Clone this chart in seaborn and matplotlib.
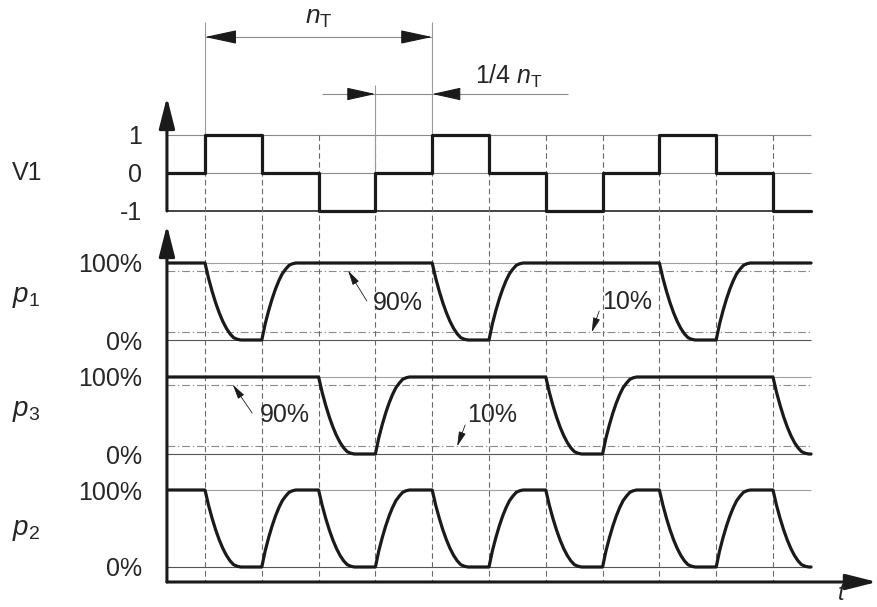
import matplotlib
matplotlib.use("Agg")
import matplotlib.pyplot as plt
import seaborn as sns
import pandas as pd

# V1 step signal, one level per quarter period
v1_times = [0.33, 1, 2, 3, 4, 5, 6, 7, 8, 9, 10, 11, 11.67]
v1_values = [0, 1, 0, -1, 0, 1, 0, -1, 0, 1, 0, -1, -1]
v1_ticks = ["1", "0", "-1"]

# normalised edge shapes (11 samples each)
fall_shape = [1.00, 0.80, 0.63, 0.48, 0.35, 0.24, 0.15, 0.08, 0.03, 0.01, 0.00]
rise_shape = [0.00, 0.21, 0.38, 0.53, 0.66, 0.77, 0.86, 0.92, 0.97, 0.99, 1.00]
fall_time = 0.63
rise_time = 0.60

# switching instants (in quarter periods), all outputs start at 100 %
p1_edges = [1, 2, 5, 6, 9, 10]
p3_edges = [3, 4, 7, 8, 11]
p2_edges = [1, 2, 3, 4, 5, 6, 7, 8, 9, 10, 11]
p_ticks = ["100%", "0%"]
thresholds = [90, 10]

# layout (vertical rows, in figure pixels from top)
T0, T1 = v1_times[0], v1_times[-1]
V1_ROW, V1_SCALE = 173, 38
P_HEIGHT = 77
rows = {"p1": 340, "p3": 454, "p2": 567}
AXIS_Y = 582
FS = 18
INK = "#1a1a1a"
GRID = "#8a8a8a"


def build_trace(edges, start=100):
    level = start
    t, v = [T0], [level]
    for e in edges:
        t.append(e)
        v.append(level)
        shape, dur = (fall_shape, fall_time) if level == 100 else (rise_shape, rise_time)
        n = len(shape) - 1
        for k, f in enumerate(shape):
            t.append(e + dur * k / n)
            v.append(100 * f)
        level = 100 - level
    t.append(T1)
    v.append(level)
    return pd.DataFrame({"t": t, "p": v})


sns.set_style("white")
plt.rcParams["font.family"] = ["Liberation Sans", "DejaVu Sans"]
plt.rcParams["mathtext.fontset"] = "custom"
plt.rcParams["mathtext.rm"] = "Liberation Sans"
plt.rcParams["mathtext.it"] = "Liberation Sans:italic"

fig = plt.figure(figsize=(8.78, 6.07), dpi=100)
ax = fig.add_axes([167 / 878, 0, 711 / 878, 1])
ax.patch.set_visible(False)

# grid: V1 levels
ax.hlines([V1_ROW - V1_SCALE, V1_ROW], T0, T1, color=GRID, lw=0.8)
ax.hlines(V1_ROW + V1_SCALE, T0, T1, color="#444444", lw=1.4)
# grid: p levels and thresholds
for name, r in rows.items():
    ax.hlines(r - P_HEIGHT, T0, T1, color="#a0a0a0", lw=0.8)
    ax.hlines(r, T0, T1, color="#555555", lw=0.8)
    if name != "p2":
        for th in thresholds:
            ax.hlines(r - P_HEIGHT * th / 100, T0, T1, color=GRID, lw=0.8,
                      linestyles=[(0, (7, 2.5, 1.2, 2.5))])
# vertical dashed markers at each quarter period
ax.vlines(v1_times[1:-1], V1_ROW - V1_SCALE, AXIS_Y, color="#6a6a6a", lw=0.8,
          linestyles=[(0, (5, 3))])
# extension lines for the dimensions
ax.vlines([1, 5], 22, V1_ROW - V1_SCALE, color="#9a9a9a", lw=0.8)
ax.vlines(4, 85, V1_ROW, color="#9a9a9a", lw=0.8)

# signals
v1_df = pd.DataFrame({"t": v1_times, "V1": [V1_ROW - V1_SCALE * v for v in v1_values]})
sns.lineplot(data=v1_df, x="t", y="V1", ax=ax, estimator=None, sort=False,
             drawstyle="steps-post", color=INK, lw=2.3)
for name, edges in [("p1", p1_edges), ("p3", p3_edges), ("p2", p2_edges)]:
    df = build_trace(edges)
    df["y"] = rows[name] - P_HEIGHT * df["p"] / 100
    sns.lineplot(data=df, x="t", y="y", ax=ax, estimator=None, sort=False,
                 color=INK, lw=2.3)


def arrow(tip, base, lw, hl, hw, color=INK):
    ax.annotate("", xy=tip, xytext=base, annotation_clip=False,
                arrowprops=dict(arrowstyle=f"-|>,head_length={hl},head_width={hw}",
                                mutation_scale=1, lw=lw, color=color,
                                shrinkA=0, shrinkB=0))


# axes with arrow heads
arrow((T0, 97), (T0, V1_ROW + V1_SCALE), 2.2, 19, 4.8)
arrow((T0, 225), (T0, AXIS_Y), 2.2, 19, 4.8)
arrow((12.83, AXIS_Y), (T0, AXIS_Y), 2.2, 19, 4.8)

# n_T dimension
ax.hlines(37, 1, 5, color="#8a8a8a", lw=0.8)
arrow((1, 37), (1.5, 37), 0.8, 20, 4.3)
arrow((5, 37), (4.5, 37), 0.8, 20, 4.3)
ax.text(3, 18, r"$n_\mathrm{T}$", fontsize=FS + 1, ha="center", va="center")

# 1/4 n_T dimension
ax.hlines(94, 3.06, 7.39, color="#8a8a8a", lw=0.8)
arrow((4, 94), (3.53, 94), 0.8, 18, 4.0)
arrow((5, 94), (5.47, 94), 0.8, 18, 4.0)
ax.text(5.75, 76, r"1/4 $n_\mathrm{T}$", fontsize=FS, ha="left", va="center")

# threshold callouts
callouts = [
    ("90%", "p1", 90, 3.52, (3.85, 301), (3.96, 303)),
    ("10%", "p1", 10, 7.81, (7.94, 311), (7.99, 302)),
    ("90%", "p3", 90, 1.49, (1.83, 413), (1.97, 415)),
    ("10%", "p3", 10, 5.44, (5.58, 425), (5.61, 415)),
]
for label, name, th, tx, base, pos in callouts:
    arrow((tx, rows[name] - P_HEIGHT * th / 100), base, 0.6, 9, 2.2)
    ax.text(pos[0], pos[1], label, fontsize=FS, ha="left", va="center")

# row labels
ax.text(-2.40, V1_ROW, "V1", fontsize=FS, ha="left", va="center")
for name, y in [("p1", 297), ("p3", 411), ("p2", 530)]:
    ax.text(-2.40, y, rf"$p_\mathrm{{{name[1]}}}$", fontsize=FS + 2, ha="left", va="center")
ax.text(12.21, 605, "t", fontsize=FS - 1, style="italic", ha="center", va="bottom")

# tick labels through the axis
tick_pos = [V1_ROW - V1_SCALE, V1_ROW, V1_ROW + V1_SCALE]
tick_lab = list(v1_ticks)
for name in ["p1", "p3", "p2"]:
    tick_pos += [rows[name] - P_HEIGHT, rows[name]]
    tick_lab += p_ticks
ax.set_yticks(tick_pos)
ax.set_yticklabels(tick_lab, fontsize=FS)
ax.tick_params(axis="y", length=0, pad=18)
ax.set_xticks([])
for s in ax.spines.values():
    s.set_visible(False)
ax.set_xlabel("")
ax.set_ylabel("")
ax.set_xlim(0.331, 12.849)
ax.set_ylim(607, 0)

fig.savefig("out.png", dpi=100)
